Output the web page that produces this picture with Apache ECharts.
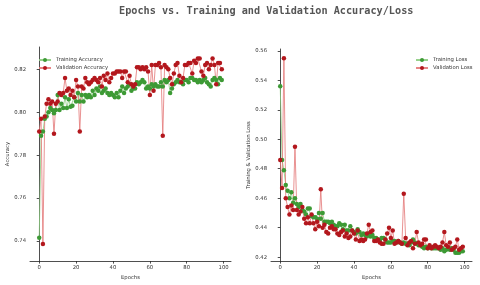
<!DOCTYPE html>
<html><head><meta charset="utf-8">
<script src="https://cdn.jsdelivr.net/npm/echarts@6/dist/echarts.min.js"></script>
<style>html,body{margin:0;padding:0;background:#fff}#c{width:480px;height:285px}</style>
</head><body><div id="c"></div>
<script>
const epochs = Array.from({length:100},(_,i)=>i);
const trainAcc = [0.7415,0.789,0.791,0.797,0.798,0.800,0.802,0.801,0.7995,0.801,
0.808,0.801,0.804,0.802,0.807,0.802,0.806,0.8025,0.803,0.807,
0.805,0.809,0.805,0.808,0.805,0.808,0.807,0.808,0.807,0.810,
0.808,0.811,0.810,0.812,0.809,0.810,0.811,0.809,0.808,0.809,
0.808,0.807,0.809,0.807,0.810,0.812,0.809,0.811,0.812,0.813,
0.810,0.811,0.811,0.814,0.813,0.814,0.815,0.814,0.811,0.812,
0.811,0.813,0.812,0.813,0.812,0.812,0.814,0.812,0.815,0.814,
0.815,0.809,0.811,0.813,0.814,0.815,0.814,0.814,0.813,0.815,
0.815,0.814,0.816,0.816,0.815,0.815,0.814,0.815,0.814,0.815,
0.816,0.814,0.813,0.812,0.815,0.816,0.815,0.813,0.816,0.815];
const valAcc = [0.791,0.797,0.7386,0.798,0.804,0.806,0.804,0.805,0.790,0.804,
0.805,0.809,0.808,0.809,0.816,0.810,0.811,0.808,0.810,0.807,
0.815,0.812,0.791,0.812,0.811,0.816,0.814,0.813,0.814,0.815,
0.816,0.815,0.814,0.816,0.812,0.817,0.815,0.818,0.814,0.816,
0.818,0.818,0.819,0.819,0.819,0.816,0.819,0.819,0.814,0.817,
0.813,0.812,0.813,0.821,0.821,0.820,0.821,0.820,0.821,0.819,
0.808,0.822,0.810,0.822,0.822,0.823,0.821,0.789,0.822,0.821,
0.820,0.816,0.813,0.818,0.822,0.823,0.817,0.814,0.816,0.822,
0.822,0.823,0.823,0.818,0.824,0.823,0.825,0.825,0.819,0.817,
0.822,0.823,0.820,0.822,0.825,0.822,0.813,0.823,0.823,0.820];
const trainLoss = [0.536,0.486,0.479,0.469,0.465,0.460,0.464,0.457,0.460,0.456,
0.454,0.456,0.452,0.451,0.449,0.453,0.453,0.448,0.447,0.447,
0.446,0.450,0.446,0.450,0.444,0.444,0.444,0.443,0.444,0.442,
0.441,0.441,0.443,0.442,0.439,0.442,0.438,0.438,0.441,0.438,
0.437,0.436,0.439,0.437,0.435,0.436,0.435,0.434,0.436,0.434,
0.435,0.433,0.433,0.432,0.431,0.433,0.433,0.432,0.430,0.430,
0.430,0.431,0.431,0.430,0.431,0.430,0.429,0.430,0.429,0.429,
0.428,0.430,0.432,0.430,0.429,0.428,0.428,0.427,0.426,0.427,
0.426,0.427,0.426,0.426,0.426,0.426,0.426,0.425,0.426,0.424,
0.425,0.426,0.425,0.426,0.425,0.423,0.423,0.423,0.424,0.424];
const valLoss = [0.486,0.467,0.555,0.460,0.454,0.449,0.455,0.452,0.495,0.452,
0.449,0.451,0.454,0.446,0.443,0.447,0.443,0.449,0.443,0.439,
0.444,0.441,0.466,0.440,0.442,0.437,0.436,0.440,0.441,0.439,
0.439,0.436,0.435,0.437,0.438,0.434,0.436,0.433,0.434,0.438,
0.436,0.432,0.438,0.431,0.432,0.431,0.432,0.436,0.442,0.437,
0.438,0.431,0.431,0.432,0.430,0.429,0.429,0.432,0.436,0.440,
0.433,0.438,0.429,0.430,0.431,0.430,0.429,0.463,0.433,0.428,
0.430,0.431,0.426,0.429,0.437,0.430,0.428,0.429,0.432,0.432,
0.426,0.428,0.426,0.427,0.428,0.427,0.426,0.427,0.430,0.437,
0.428,0.427,0.430,0.425,0.426,0.427,0.432,0.425,0.426,0.427];
const xTicks = [0,20,40,60,80,100];
const accTicks = [0.74,0.76,0.78,0.80,0.82];
const lossTicks = [0.42,0.44,0.46,0.48,0.50,0.52,0.54,0.56];

const GREEN = '#3d9a35', GREEN_L = '#8ccc80';
const RED = '#b3171d', RED_L = '#e47878';
const FONT = 'DejaVu Sans';
const FS = 5.3;
const tickTxt = {fontSize:FS, color:'#333', fontFamily:FONT};
const axLine = {show:true, lineStyle:{color:'#222', width:0.8}};
const axTick = {show:true, inside:false, length:2.5, lineStyle:{color:'#222', width:0.8}};

function xAxis(gi){
  return {type:'value', gridIndex:gi, min:-5, max:104,
    name:'Epochs', nameLocation:'middle', nameGap:12,
    nameTextStyle:{fontSize:FS, color:'#333', fontFamily:FONT},
    axisLine:axLine, axisTick:Object.assign({customValues:xTicks},axTick),
    axisLabel:Object.assign({customValues:xTicks, margin:4},tickTxt),
    splitLine:{show:false}};
}
function yAxis(gi,min,max,ticks,name,gap){
  return {type:'value', gridIndex:gi, min:min, max:max,
    name:name, nameLocation:'middle', nameGap:gap,
    nameTextStyle:{fontSize:FS, color:'#333', fontFamily:FONT},
    axisLine:axLine, axisTick:Object.assign({customValues:ticks},axTick),
    axisLabel:Object.assign({customValues:ticks, margin:4, formatter:v=>v.toFixed(2)},tickTxt),
    splitLine:{show:false}};
}
function series(name,gi,data,c,cl){
  return {name:name, type:'line', xAxisIndex:gi, yAxisIndex:gi,
    data:epochs.map((e,i)=>[e,data[i]]),
    symbol:'circle', symbolSize:4.5, showAllSymbol:true,
    itemStyle:{color:c}, lineStyle:{color:cl, width:0.9, opacity:0.9},
    animation:false, z: 3};
}
const legendCommon = {orient:'vertical', top:52.5, itemWidth:12, itemHeight:5, itemGap:3,
  textStyle:{fontSize:FS, color:'#333', fontFamily:FONT}};
const chart = echarts.init(document.getElementById('c'), null, {renderer:'canvas'});
chart.setOption({
  backgroundColor:'#fff',
  animation:false,
  title:{text:'Epochs vs. Training and Validation Accuracy/Loss', left:119, top:6, padding:0,
    textStyle:{fontFamily:'DejaVu Sans Mono', fontWeight:'bold', fontSize:10.2, color:'#555'}},
  grid:[{left:30, top:47, width:201, height:217},
        {left:271, top:49, width:201, height:215}],
  xAxis:[xAxis(0), xAxis(1)],
  yAxis:[yAxis(0,0.7306,0.8304,accTicks,'Accuracy',19),
         yAxis(1,0.4173,0.5613,lossTicks,'Training & Validation Loss',18)],
  legend:[
    Object.assign({data:['Training Accuracy','Validation Accuracy'], left:33}, legendCommon),
    Object.assign({data:['Training Loss','Validation Loss'], left:410}, legendCommon)
  ],
  series:[
    series('Training Accuracy',0,trainAcc,GREEN,GREEN_L),
    series('Validation Accuracy',0,valAcc,RED,RED_L),
    series('Training Loss',1,trainLoss,GREEN,GREEN_L),
    series('Validation Loss',1,valLoss,RED,RED_L)
  ]
});
</script></body></html>
